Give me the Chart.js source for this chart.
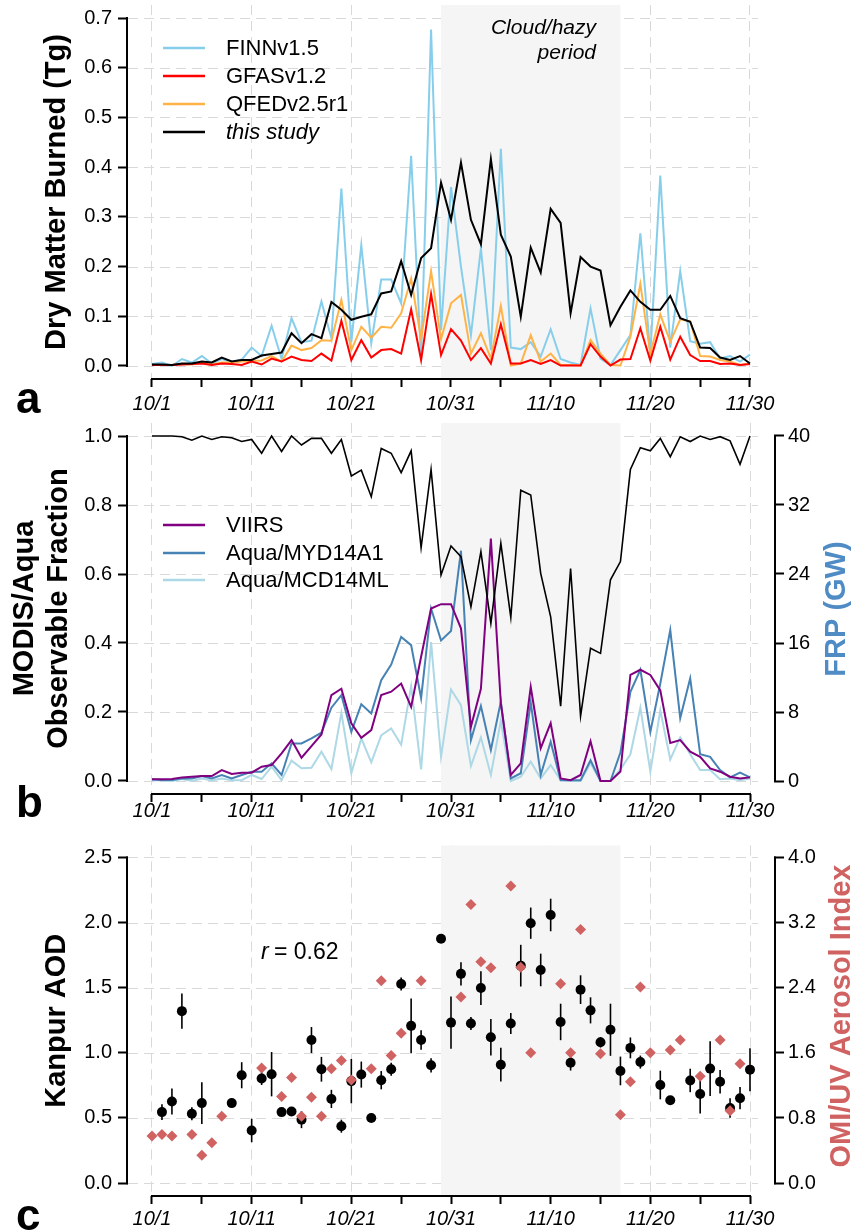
<!DOCTYPE html>
<html>
<head>
<meta charset="utf-8">
<script src="https://cdn.jsdelivr.net/npm/chart.js@4.4.0/dist/chart.umd.min.js"></script>
<style>
  body { margin: 0; background: #fff; width: 854px; height: 1232px; position: relative; overflow: hidden; }
  canvas { position: absolute; left: 0; }
</style>
</head>
<body>
<canvas id="chartA" width="854" height="420" style="top:0px"></canvas>
<canvas id="chartB" width="854" height="420" style="top:420px"></canvas>
<canvas id="chartC" width="854" height="392" style="top:840px"></canvas>
<script>
const FONT = "'Liberation Sans', Arial, Helvetica, sans-serif";
const GRID = '#d9d9d9';

// x axis: days since 10/1
const dateLabels = ['10/1', '10/11', '10/21', '10/31', '11/10', '11/20', '11/30'];
const dayTicks = [0, 5, 10, 15, 20, 25, 30, 35, 40, 45, 50, 55, 60];
const hazeStart = 29;   // 10/30
const hazeEnd = 47;     // 11/17

// panel a - dry matter burned (Tg), 10/1 .. 11/30
const finn = [0.004, 0.007, 0.0, 0.014, 0.007, 0.02, 0.005, 0.014, 0.008, 0.013,
  0.037, 0.02, 0.081, 0.014, 0.096, 0.048, 0.051, 0.13, 0.056, 0.357,
  0.048, 0.243, 0.046, 0.174, 0.174, 0.126, 0.423, 0.015, 0.677, 0.072,
  0.36, 0.2, 0.062, 0.237, 0.032, 0.437, 0.037, 0.034, 0.048, 0.019,
  0.074, 0.014, 0.007, 0.002, 0.116, 0.015, 0.002, 0.032, 0.062, 0.267,
  0.025, 0.383, 0.037, 0.191, 0.05, 0.045, 0.048, 0.015, 0.02, 0.009, 0.023];
const gfas = [0.002, 0.002, 0.002, 0.003, 0.004, 0.005, 0.002, 0.005, 0.004, 0.002,
  0.009, 0.003, 0.015, 0.009, 0.019, 0.012, 0.01, 0.025, 0.011, 0.091,
  0.012, 0.052, 0.017, 0.032, 0.034, 0.025, 0.114, 0.012, 0.145, 0.022,
  0.074, 0.051, 0.012, 0.036, 0.005, 0.084, 0.005, 0.005, 0.012, 0.004,
  0.012, 0.001, 0.001, 0.001, 0.044, 0.019, 0.001, 0.013, 0.014, 0.076,
  0.011, 0.079, 0.013, 0.059, 0.022, 0.01, 0.01, 0.004, 0.005, 0.002, 0.004];
const qfed = [0.002, 0.002, 0.002, 0.004, 0.003, 0.007, 0.003, 0.007, 0.007, 0.009,
  0.01, 0.011, 0.02, 0.009, 0.041, 0.032, 0.036, 0.052, 0.051, 0.133,
  0.032, 0.079, 0.057, 0.079, 0.077, 0.106, 0.176, 0.054, 0.191, 0.054,
  0.126, 0.143, 0.025, 0.066, 0.015, 0.121, 0.001, 0.005, 0.062, 0.009,
  0.025, 0.002, 0.002, 0.001, 0.052, 0.025, 0.002, 0.001, 0.059, 0.165,
  0.024, 0.104, 0.049, 0.094, 0.09, 0.02, 0.019, 0.012, 0.009, 0.002, 0.005];
const thisStudy = [0.003, 0.003, 0.002, 0.005, 0.005, 0.009, 0.007, 0.017, 0.009, 0.012,
  0.012, 0.021, 0.024, 0.027, 0.066, 0.046, 0.064, 0.056, 0.129, 0.113,
  0.093, 0.099, 0.104, 0.146, 0.15, 0.211, 0.143, 0.217, 0.237, 0.369,
  0.294, 0.409, 0.294, 0.245, 0.416, 0.264, 0.22, 0.099, 0.238, 0.188,
  0.316, 0.288, 0.106, 0.219, 0.2, 0.192, 0.082, 0.119, 0.152, 0.129,
  0.113, 0.113, 0.141, 0.096, 0.089, 0.037, 0.036, 0.017, 0.012, 0.02, 0.005];
const dmTicks = [0, 0.1, 0.2, 0.3, 0.4, 0.5, 0.6, 0.7];

// panel b - observable fraction and FRP (GW)
const observable = [1.0, 1.0, 1.0, 0.998, 0.988, 1.0, 0.99, 0.998, 0.995, 0.984,
  0.99, 0.95, 1.0, 0.955, 1.0, 0.974, 0.993, 0.993, 0.95, 0.99,
  0.884, 0.901, 0.824, 0.964, 0.95, 0.894, 0.957, 0.676, 0.903, 0.597,
  0.681, 0.65, 0.505, 0.665, 0.457, 0.689, 0.474, 0.843, 0.829, 0.602,
  0.476, 0.217, 0.616, 0.188, 0.385, 0.37, 0.583, 0.636, 0.903, 0.966,
  0.957, 0.993, 0.94, 0.998, 0.984, 1.0, 0.99, 0.998, 0.986, 0.918, 1.0];
const viirs = [0.2, 0.2, 0.23, 0.42, 0.5, 0.58, 0.58, 1.27, 0.81, 0.97,
  0.97, 1.66, 1.85, 3.2, 4.75, 2.7, 4.05, 5.4, 9.96, 10.7,
  6.68, 5.02, 5.9, 9.96, 10.35, 11.3, 8.6, 14.4, 20.0, 20.5,
  20.5, 17.7, 6.3, 10.7, 28.1, 9.0, 0.7, 2.05, 10.9, 3.8,
  6.7, 0.3, 0.1, 0.7, 4.6, 0.0, 0.0, 1.1, 12.3, 12.9,
  12.3, 10.5, 4.4, 4.75, 3.4, 2.8, 1.47, 1.08, 0.5, 0.3, 0.42];
const myd14a1 = [0.2, 0.12, 0.12, 0.3, 0.3, 0.58, 0.3, 0.7, 0.3, 0.7,
  1.08, 1.08, 2.05, 0.7, 4.36, 4.36, 4.94, 5.6, 8.5, 9.96,
  5.7, 8.9, 7.84, 11.7, 13.5, 16.7, 15.75, 9.6, 20.0, 16.3,
  17.4, 26.7, 4.75, 8.7, 3.6, 9.2, 0.3, 0.9, 9.1, 0.7,
  4.56, 0.1, 0.1, 0.1, 2.4, 0.0, 0.0, 3.3, 10.35, 12.9,
  5.7, 11.3, 17.5, 7.3, 11.9, 3.1, 2.8, 1.27, 0.42, 0.97, 0.42];
const mcd14ml = [0.1, 0.05, 0.0, 0.23, 0.0, 0.3, 0.05, 0.3, 0.1, 0.1,
  0.7, 0.23, 1.66, 0.1, 2.36, 1.47, 1.54, 3.4, 1.39, 7.9,
  0.9, 4.94, 2.16, 5.3, 6.1, 4.2, 11.0, 1.35, 16.1, 2.8,
  10.6, 8.8, 1.74, 5.06, 0.7, 7.0, 0.0, 0.5, 2.24, 0.3,
  1.85, 0.1, 0.0, 0.0, 2.05, 0.0, 0.0, 1.35, 3.1, 8.5,
  1.08, 8.2, 2.5, 5.06, 3.1, 1.27, 1.27, 0.2, 0.3, 0.1, 0.3];
const fracTicks = [0, 0.2, 0.4, 0.6, 0.8, 1.0];
const frpTicks = [0, 8, 16, 24, 32, 40];

// panel c - Kanpur AOD (with error) and OMI aerosol index
const aodDays = [1, 2, 3, 4, 5, 8, 9, 10, 11, 12, 13, 14, 15, 16, 17, 18, 19, 20, 21, 22,
  23, 24, 25, 26, 27, 28, 29, 30, 31, 32, 33, 34, 35, 36, 37, 38, 39, 40, 41, 42,
  43, 44, 45, 46, 47, 48, 49, 51, 52, 54, 55, 56, 57, 58, 59, 60];
const aod = [0.545, 0.626, 1.32, 0.533, 0.614, 0.614, 0.828, 0.404, 0.803, 0.836, 0.545, 0.55, 0.487, 1.098, 0.874, 0.646, 0.437, 0.783, 0.833, 0.5,
  0.79, 0.874, 1.528, 1.207, 1.098, 0.904, 1.876, 1.232, 1.606, 1.225, 1.497, 1.119, 0.909, 1.225, 1.669, 1.995, 1.636, 2.058, 1.237, 0.924,
  1.485, 1.326, 1.081, 1.177, 0.861, 1.038, 0.929, 0.753, 0.636, 0.788, 0.684, 0.879, 0.778, 0.576, 0.652, 0.871];
const aodErr = [0.06, 0.1, 0.135, 0.05, 0.16, 0.015, 0.1, 0.09, 0.05, 0.17, 0.0, 0.0, 0.065, 0.1, 0.095, 0.07, 0.05, 0.17, 0.1, 0.0,
  0.07, 0.05, 0.05, 0.21, 0.075, 0.055, 0.0, 0.2, 0.09, 0.05, 0.13, 0.14, 0.13, 0.08, 0.16, 0.12, 0.125, 0.125, 0.14, 0.06,
  0.11, 0.1, 0.04, 0.2, 0.11, 0.08, 0.05, 0.11, 0.0, 0.09, 0.15, 0.21, 0.09, 0.075, 0.085, 0.165];
const omiDays = [0, 1, 2, 4, 5, 6, 7, 11, 13, 14, 15, 16, 17, 18, 19, 20, 22, 23, 24, 25, 27,
  31, 32, 33, 34, 36, 37, 38, 41, 42, 43, 45, 47, 48, 49, 50, 52, 53, 55, 57, 58, 59];
const omi = [0.578, 0.598, 0.578, 0.598, 0.343, 0.497, 0.82, 1.414, 1.063, 1.297, 0.82, 1.055, 0.82, 1.406, 1.507, 1.265, 1.406, 2.485, 1.568, 1.842, 2.485,
  2.287, 3.42, 2.719, 2.646, 3.648, 2.65, 1.6, 2.448, 1.6, 3.115, 1.588, 0.84, 1.244, 2.408, 1.6, 1.636, 1.758, 1.313, 1.758, 0.889, 1.467];
const aodTicks = [0, 0.5, 1.0, 1.5, 2.0, 2.5];
const omiTicks = [0, 0.8, 1.6, 2.4, 3.2, 4.0];

const series = arr => arr.map((v, i) => ({ x: i, y: v }));

function xScale(max, height, pad) {
  return {
    type: 'linear', min: -2.408, max: max,
    afterFit: s => { s.height = height; s.paddingLeft = 0; s.paddingRight = 0; },
    afterBuildTicks: s => { s.ticks = dayTicks.map(v => ({ value: v })); },
    grid: {
      color: c => (c.tick && c.tick.value % 10 === 0) ? GRID : 'rgba(0,0,0,0)',
      lineWidth: 1, tickColor: '#000', tickWidth: 2, tickLength: 8
    },
    border: { display: false, dash: [10, 6] },
    ticks: {
      autoSkip: false, maxRotation: 0, padding: pad, color: '#000',
      font: { family: FONT, size: 20, style: 'italic' },
      callback: v => v % 10 === 0 ? dateLabels[v / 10] : ''
    }
  };
}

function yScale(pos, min, max, ticks, digits, title) {
  const s = {
    type: 'linear', position: pos, min: min, max: max,
    afterFit: sc => { sc.width = pos === 'left' ? 128 : 80; sc.paddingTop = 0; sc.paddingBottom = 0; },
    afterBuildTicks: sc => { sc.ticks = ticks.map(v => ({ value: v })); },
    grid: { drawOnChartArea: false, color: '#000', tickColor: '#000', tickWidth: 2, tickLength: 10 },
    border: { display: false },
    ticks: { padding: pos === 'left' ? 6 : 4, color: '#000', font: { family: FONT, size: 20 }, callback: v => v.toFixed(digits) }
  };
  if (title) s.title = title;
  return s;
}

function leftTitle(text, padTop, lineHeight) {
  return { display: true, text: text, color: '#000', padding: { top: padTop, bottom: 0 },
    font: { family: FONT, size: 29, weight: 'bold', lineHeight: lineHeight } };
}

// shading, grid, axis lines, legends and labels
function makeDecor(cfg) {
  return {
    id: 'decor',
    beforeDatasetsDraw(chart) {
      const { ctx, chartArea, scales } = chart;
      const x = scales.x, y = scales.y;
      ctx.save();
      ctx.strokeStyle = GRID;
      ctx.lineWidth = 1;
      ctx.setLineDash([10, 6]);
      y.ticks.forEach(t => {
        const py = Math.round(y.getPixelForValue(t.value)) + 0.5;
        ctx.beginPath();
        ctx.moveTo(chartArea.left, py);
        ctx.lineTo(cfg.gridRight, py);
        ctx.stroke();
      });
      ctx.setLineDash([]);
      const x0 = x.getPixelForValue(hazeStart), x1 = x.getPixelForValue(hazeEnd);
      ctx.fillStyle = '#f5f5f5';
      ctx.fillRect(x0, chartArea.top, x1 - x0, chartArea.bottom - chartArea.top);

      if (cfg.errorBars) {
        ctx.strokeStyle = '#000';
        ctx.lineWidth = 1.6;
        aodDays.forEach((d, i) => {
          if (!aodErr[i]) return;
          const px = x.getPixelForValue(d);
          ctx.beginPath();
          ctx.moveTo(px, y.getPixelForValue(aod[i] - aodErr[i]));
          ctx.lineTo(px, y.getPixelForValue(aod[i] + aodErr[i]));
          ctx.stroke();
        });
      }
      ctx.restore();
    },
    afterDraw(chart) {
      const { ctx, chartArea, scales } = chart;
      const x = scales.x, y = scales.y;
      ctx.save();
      ctx.strokeStyle = '#000';
      ctx.lineWidth = 2;
      ctx.lineCap = 'butt';
      // x axis line
      ctx.beginPath();
      ctx.moveTo(x.getPixelForValue(0) - 1, chartArea.bottom);
      ctx.lineTo(x.getPixelForValue(60) + 1, chartArea.bottom);
      ctx.stroke();
      // left axis line
      const yt = y.ticks;
      ctx.beginPath();
      ctx.moveTo(chartArea.left - 1, y.getPixelForValue(yt[0].value) + 1);
      ctx.lineTo(chartArea.left - 1, y.getPixelForValue(yt[yt.length - 1].value) - 1);
      ctx.stroke();
      // right axis line
      if (scales.y2) {
        const y2 = scales.y2, t2 = y2.ticks;
        ctx.beginPath();
        ctx.moveTo(chartArea.right + 1, y2.getPixelForValue(t2[0].value) + 1);
        ctx.lineTo(chartArea.right + 1, y2.getPixelForValue(t2[t2.length - 1].value) - 1);
        ctx.stroke();
      }

      // legend
      if (cfg.legend) {
        const dss = chart.data.datasets.filter(d => d.showInLegend);
        dss.forEach((ds, i) => {
          const ry = cfg.legend.rows[i];
          ctx.strokeStyle = ds.borderColor;
          ctx.lineWidth = 2.5;
          ctx.beginPath();
          ctx.moveTo(163, ry);
          ctx.lineTo(205, ry);
          ctx.stroke();
          ctx.fillStyle = '#000';
          ctx.font = (ds.italicLabel ? 'italic ' : '') + '22px ' + FONT;
          ctx.textAlign = 'left';
          ctx.textBaseline = 'middle';
          ctx.fillText(ds.label, 226, ry + 1);
        });
      }

      // free texts
      (cfg.texts || []).forEach(t => {
        ctx.fillStyle = t.color || '#000';
        ctx.font = t.font;
        ctx.textAlign = t.align || 'left';
        ctx.textBaseline = t.baseline || 'middle';
        ctx.fillText(t.text, t.x, t.y);
      });

      // right axis title, reading bottom to top
      if (cfg.rightTitle) {
        const rt = cfg.rightTitle;
        ctx.translate(rt.x, rt.y);
        ctx.rotate(-Math.PI / 2);
        ctx.fillStyle = rt.color;
        ctx.font = 'bold 29px ' + FONT;
        ctx.textAlign = 'center';
        ctx.textBaseline = 'middle';
        ctx.fillText(rt.text, 0, 0);
      }
      ctx.restore();
    }
  };
}

const common = {
  responsive: false,
  animation: false,
  events: [],
  plugins: { legend: { display: false }, tooltip: { enabled: false } }
};

// ---------- panel a ----------
new Chart(document.getElementById('chartA'), {
  type: 'line',
  data: {
    datasets: [
      { label: 'FINNv1.5', data: series(finn), borderColor: '#87ceeb', borderWidth: 2, pointRadius: 0, order: 3, showInLegend: true },
      { label: 'GFASv1.2', data: series(gfas), borderColor: '#ff0000', borderWidth: 2, pointRadius: 0, order: 1, showInLegend: true },
      { label: 'QFEDv2.5r1', data: series(qfed), borderColor: '#ffb347', borderWidth: 2, pointRadius: 0, order: 2, showInLegend: true },
      { label: 'this study', data: series(thisStudy), borderColor: '#000000', borderWidth: 2, pointRadius: 0, order: 0, showInLegend: true, italicLabel: true }
    ]
  },
  options: Object.assign({}, common, {
    layout: { padding: { top: 5, right: 96, left: 0, bottom: 0 } },
    scales: {
      x: xScale(60.803, 41, 5),
      y: yScale('left', -0.02615, 0.72615, dmTicks, 1, leftTitle('Dry Matter Burned (Tg)', 40, 1.2))
    }
  }),
  plugins: [makeDecor({
    gridRight: 758,
    legend: { rows: [48, 76, 104, 132] },
    texts: [
      { text: 'Cloud/hazy', x: 596, y: 28, align: 'right', font: 'italic 21px ' + FONT },
      { text: 'period', x: 596, y: 53, align: 'right', font: 'italic 21px ' + FONT },
      { text: 'a', x: 16, y: 413, baseline: 'alphabetic', font: 'bold 44px ' + FONT }
    ]
  })]
});

// ---------- panel b ----------
new Chart(document.getElementById('chartB'), {
  type: 'line',
  data: {
    datasets: [
      { label: 'Observable Fraction', data: series(observable), yAxisID: 'y', borderColor: '#000000', borderWidth: 1.6, pointRadius: 0, order: 0 },
      { label: 'VIIRS', data: series(viirs), yAxisID: 'y2', borderColor: '#800080', borderWidth: 2, pointRadius: 0, order: 1, showInLegend: true },
      { label: 'Aqua/MYD14A1', data: series(myd14a1), yAxisID: 'y2', borderColor: '#4682b4', borderWidth: 2, pointRadius: 0, order: 2, showInLegend: true },
      { label: 'Aqua/MCD14ML', data: series(mcd14ml), yAxisID: 'y2', borderColor: '#add8e6', borderWidth: 2, pointRadius: 0, order: 3, showInLegend: true }
    ]
  },
  options: Object.assign({}, common, {
    layout: { padding: { top: 3, right: 0, left: 0, bottom: 0 } },
    scales: {
      x: xScale(62.408, 46, -3),
      y: yScale('left', -0.0377, 1.0377, fracTicks, 1, leftTitle(['MODIS/Aqua', 'Observable Fraction'], 8, 1.17)),
      y2: yScale('right', -1.507, 41.507, frpTicks, 0)
    }
  }),
  plugins: [makeDecor({
    gridRight: 758,
    legend: { rows: [105, 133, 160] },
    rightTitle: { text: 'FRP (GW)', x: 837, y: 189, color: '#4f8bc4' },
    texts: [
      { text: 'b', x: 16, y: 397, baseline: 'alphabetic', font: 'bold 44px ' + FONT }
    ]
  })]
});

// ---------- panel c ----------
new Chart(document.getElementById('chartC'), {
  type: 'scatter',
  data: {
    datasets: [
      { label: 'Kanpur AOD', data: aodDays.map((d, i) => ({ x: d, y: aod[i] })), yAxisID: 'y',
        pointRadius: 5, pointBackgroundColor: '#000', pointBorderWidth: 0, borderColor: '#000', order: 1 },
      { label: 'OMI/UV Aerosol Index', data: omiDays.map((d, i) => ({ x: d, y: omi[i] })), yAxisID: 'y2',
        pointStyle: 'rectRot', pointRadius: 5.5, pointBackgroundColor: '#d06262', pointBorderWidth: 0, borderColor: '#d06262', order: 0 }
    ]
  },
  options: Object.assign({}, common, {
    layout: { padding: { top: 2, right: 0, left: 0, bottom: 0 } },
    scales: {
      x: xScale(62.408, 36, 3),
      y: yScale('left', -0.0988, 2.5912, aodTicks, 1, leftTitle('Kanpur AOD', 40, 1.2)),
      y2: yScale('right', -0.158, 4.146, omiTicks, 1)
    }
  }),
  plugins: [makeDecor({
    gridRight: 758,
    errorBars: true,
    rightTitle: { text: 'OMI/UV Aerosol Index', x: 842, y: 176, color: '#d06262' },
    texts: [
      { text: 'r', x: 261, y: 113, font: 'italic 23px ' + FONT },
      { text: '= 0.62', x: 274, y: 113, font: '23px ' + FONT },
      { text: 'c', x: 16, y: 390, baseline: 'alphabetic', font: 'bold 44px ' + FONT }
    ]
  })]
});
</script>
</body>
</html>
